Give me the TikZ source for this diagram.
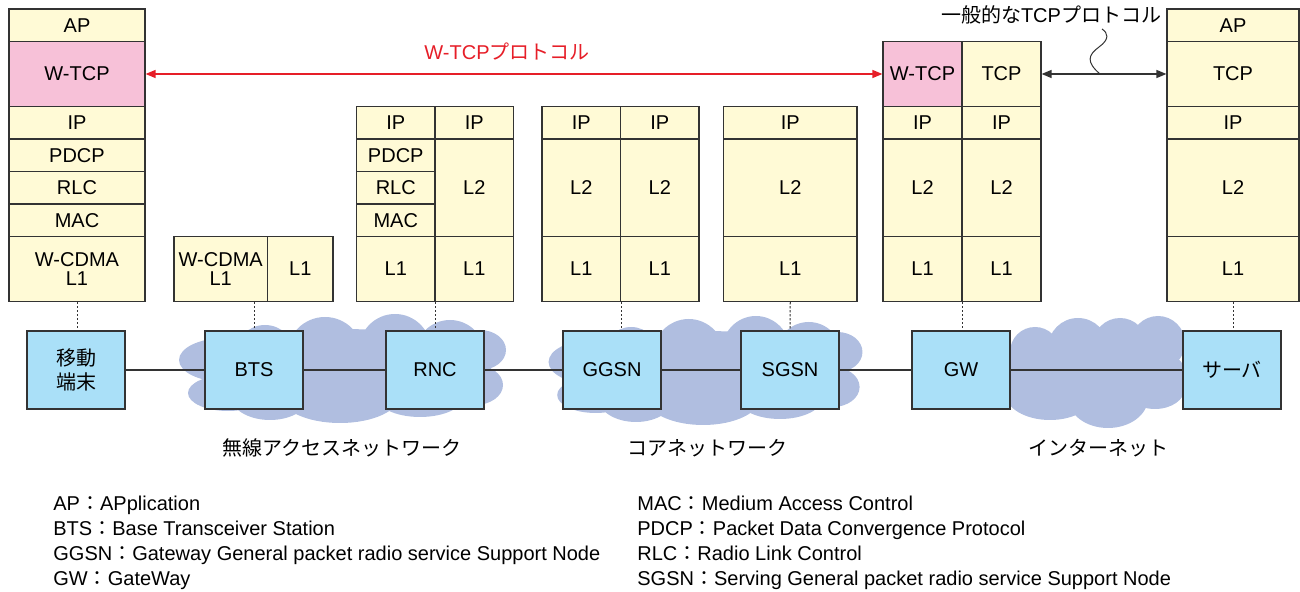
\documentclass[tikz,border=0pt]{standalone}
\usepackage{fontspec}
\setmainfont{Liberation Sans}
\newfontfamily\jp{Noto Sans CJK JP}
\usetikzlibrary{arrows.meta}
\definecolor{stackyellow}{HTML}{FFFAD6}
\definecolor{cellpink}{HTML}{F7C1D8}
\definecolor{boxblue}{HTML}{AAE0F8}
\definecolor{cloudblue}{HTML}{B0BEE0}
\definecolor{linegray}{HTML}{333333}
\definecolor{protored}{HTML}{E61E28}

\tikzset{
	layer/.style={draw=linegray, fill=stackyellow, line width=0.6pt, inner sep=0pt,
		align=center, font=\fontsize{10}{9.5}\selectfont},
	pinkcell/.style={fill=cellpink},
	station/.style={draw=linegray, fill=boxblue, line width=0.6pt, inner sep=0pt,
		minimum width=49pt, minimum height=39pt, align=center, font=\fontsize{10}{12}\selectfont},
	link/.style={draw=linegray, line width=0.6pt},
	tie/.style={draw=linegray, line width=0.5pt, dash pattern=on 1.2pt off 0.8pt},
	area/.style={font=\jp\fontsize{10}{12}\selectfont},
	legend/.style={anchor=base west, inner sep=0pt, font=\fontsize{10}{12}\selectfont}
}

\newcommand{\layer}[7][] % style, name, left, top, right, bottom in px, label
{
	\node[layer, #1, minimum width={(#5-#3)*0.5pt}, minimum height={(#6-#4)*0.5pt}]
		(#2) at ({(#3+#5)/2},{(#4+#6)/2}) {#7};
}

\newcommand{\puffcloud}[3] % centre x, centre y in px, xscale
{
	\fill[cloudblue, shift={(#1,#2)}, xscale=#3]
		(0,0) ellipse [x radius=140, y radius=40]
		(-118,-9) ellipse [x radius=46, y radius=22]
		(-115,24) ellipse [x radius=40, y radius=18]
		(-78,-14) circle (30)
		(-18,-14) circle (38)
		(52,-19) circle (36)
		(107,-14) circle (35)
		(137,-19) ellipse [x radius=26, y radius=20]
		(132,16) ellipse [x radius=28, y radius=20]
		(-3,26) ellipse [x radius=60, y radius=28]
		(77,26) ellipse [x radius=45, y radius=22]
		(-73,26) ellipse [x radius=40, y radius=25];
}

\begin{document}
\begin{tikzpicture}[x=0.5pt, y=-0.5pt]
	\useasboundingbox (0,0) rectangle (1300,592);

	% clouds behind the network
	\puffcloud{343}{369}{1}
	\puffcloud{706}{371}{0.96}
	\fill[cloudblue]
		(1095,372) ellipse [x radius=90, y radius=35]
		(1035,352) circle (25)
		(1078,348) circle (30)
		(1120,345) circle (27)
		(1158,343) circle (27)
		(1050,393) ellipse [x radius=45, y radius=27]
		(1108,398) ellipse [x radius=40, y radius=30]
		(1155,388) ellipse [x radius=30, y radius=21];

	% network elements
	\node[station] (mobile) at (76,370) {{\jp 移動}\\{\jp 端末}};
	\node[station] (bts) at (254,370) {BTS};
	\node[station] (rnc) at (435,370) {RNC};
	\node[station] (ggsn) at (612,370) {GGSN};
	\node[station] (sgsn) at (790,370) {SGSN};
	\node[station] (gw) at (961,370) {GW};
	\node[station] (server) at (1232,370) {\jp サーバ};
	\draw[link] (mobile) -- (bts);
	\draw[link] (bts) -- (rnc);
	\draw[link] (rnc) -- (ggsn);
	\draw[link] (ggsn) -- (sgsn);
	\draw[link] (sgsn) -- (gw);
	\draw[link] (gw) -- (server);

	% mobile terminal stack
	\layer{m-ap}{9}{9}{145}{41.5}{AP}
	\layer[pinkcell]{m-wtcp}{9}{41.5}{145}{106.5}{W-TCP}
	\layer{m-ip}{9}{106.5}{145}{139}{IP}
	\layer{m-pdcp}{9}{139}{145}{171.5}{PDCP}
	\layer{m-rlc}{9}{171.5}{145}{204}{RLC}
	\layer{m-mac}{9}{204}{145}{236.5}{MAC}
	\layer{m-l1}{9}{236.5}{145}{301.5}{W-CDMA\\L1}
	% BTS stack
	\layer{b-l1a}{174}{236.5}{267.5}{301.5}{W-CDMA\\L1}
	\layer{b-l1b}{267.5}{236.5}{333}{301.5}{L1}
	% RNC stack
	\layer{r-ipa}{356.5}{106.5}{435}{139}{IP}
	\layer{r-pdcp}{356.5}{139}{435}{171.5}{PDCP}
	\layer{r-rlc}{356.5}{171.5}{435}{204}{RLC}
	\layer{r-mac}{356.5}{204}{435}{236.5}{MAC}
	\layer{r-l1a}{356.5}{236.5}{435}{301.5}{L1}
	\layer{r-ipb}{435}{106.5}{513.5}{139}{IP}
	\layer{r-l2b}{435}{139}{513.5}{236.5}{L2}
	\layer{r-l1b}{435}{236.5}{513.5}{301.5}{L1}
	% GGSN stack
	\layer{g-ipa}{542}{106.5}{620.5}{139}{IP}
	\layer{g-l2a}{542}{139}{620.5}{236.5}{L2}
	\layer{g-l1a}{542}{236.5}{620.5}{301.5}{L1}
	\layer{g-ipb}{620.5}{106.5}{699}{139}{IP}
	\layer{g-l2b}{620.5}{139}{699}{236.5}{L2}
	\layer{g-l1b}{620.5}{236.5}{699}{301.5}{L1}
	% SGSN stack
	\layer{s-ip}{723.5}{106.5}{857}{139}{IP}
	\layer{s-l2}{723.5}{139}{857}{236.5}{L2}
	\layer{s-l1}{723.5}{236.5}{857}{301.5}{L1}
	% GW stack
	\layer[pinkcell]{w-wtcp}{883}{41.5}{962}{106.5}{W-TCP}
	\layer{w-ipa}{883}{106.5}{962}{139}{IP}
	\layer{w-l2a}{883}{139}{962}{236.5}{L2}
	\layer{w-l1a}{883}{236.5}{962}{301.5}{L1}
	\layer{w-tcp}{962}{41.5}{1041}{106.5}{TCP}
	\layer{w-ipb}{962}{106.5}{1041}{139}{IP}
	\layer{w-l2b}{962}{139}{1041}{236.5}{L2}
	\layer{w-l1b}{962}{236.5}{1041}{301.5}{L1}
	% server stack
	\layer{v-ap}{1167}{9}{1299}{41.5}{AP}
	\layer{v-tcp}{1167}{41.5}{1299}{106.5}{TCP}
	\layer{v-ip}{1167}{106.5}{1299}{139}{IP}
	\layer{v-l2}{1167}{139}{1299}{236.5}{L2}
	\layer{v-l1}{1167}{236.5}{1299}{301.5}{L1}

	% stacks down to their boxes
	\draw[tie] (m-l1.south) -- (m-l1.south |- mobile.north);
	\draw[tie] (bts.north |- b-l1a.south) -- (bts.north);
	\draw[tie] (r-l1a.south east) -- (r-l1a.south east |- rnc.north);
	\draw[tie] (g-l1a.south east) -- (g-l1a.south east |- ggsn.north);
	\draw[tie] (s-l1.south) -- (sgsn.north);
	\draw[tie] (w-l1a.south east) -- (w-l1a.south east |- gw.north);
	\draw[tie] (v-l1.south) -- (v-l1.south |- server.north);

	% end-to-end protocols
	\draw[protored, line width=0.7pt, {Triangle[length=5pt,width=4pt]}-{Triangle[length=5pt,width=4pt]}]
		(m-wtcp.east) -- (w-wtcp.west);
	\node[protored, font=\fontsize{10}{12}\selectfont] (wtcplabel) at (507,52) {W-TCP{\jp プロトコル}};
	\draw[linegray, line width=0.7pt, {Triangle[length=5pt,width=4pt]}-{Triangle[length=5pt,width=4pt]}]
		(w-tcp.east) -- (v-tcp.west);
	\node[font=\fontsize{10}{12}\selectfont] (tcplabel) at (1051,15) {{\jp 一般的な}TCP{\jp プロトコル}};
	\coordinate (wavefoot) at (1100,74);
	\coordinate (wavetop) at (1102,29);
	\draw[linegray, line width=0.5pt] (wavefoot) .. controls (1086,62) and (1088,55) .. (1099,47)
		.. controls (1110,39) and (1108,33) .. (wavetop);

	% network names
	\node[area] (ran) at (342,448) {無線アクセスネットワーク};
	\node[area] (core) at (707,448) {コアネットワーク};
	\node[area] (inet) at (1098,448) {インターネット};

	% abbreviations
	\node[legend] (ap) at (53,510) {AP{\jp ：}APplication};
	\node[legend] (btsname) at (53,535) {BTS{\jp ：}Base Transceiver Station};
	\node[legend] (ggsnname) at (53,560) {GGSN{\jp ：}Gateway General packet radio service Support Node};
	\node[legend] (gwname) at (53,585) {GW{\jp ：}GateWay};
	\node[legend] (mac) at (637,510) {MAC{\jp ：}Medium Access Control};
	\node[legend] (pdcp) at (637,535) {PDCP{\jp ：}Packet Data Convergence Protocol};
	\node[legend] (rlc) at (637,560) {RLC{\jp ：}Radio Link Control};
	\node[legend] (sgsnname) at (637,585) {SGSN{\jp ：}Serving General packet radio service Support Node};
\end{tikzpicture}
\end{document}
